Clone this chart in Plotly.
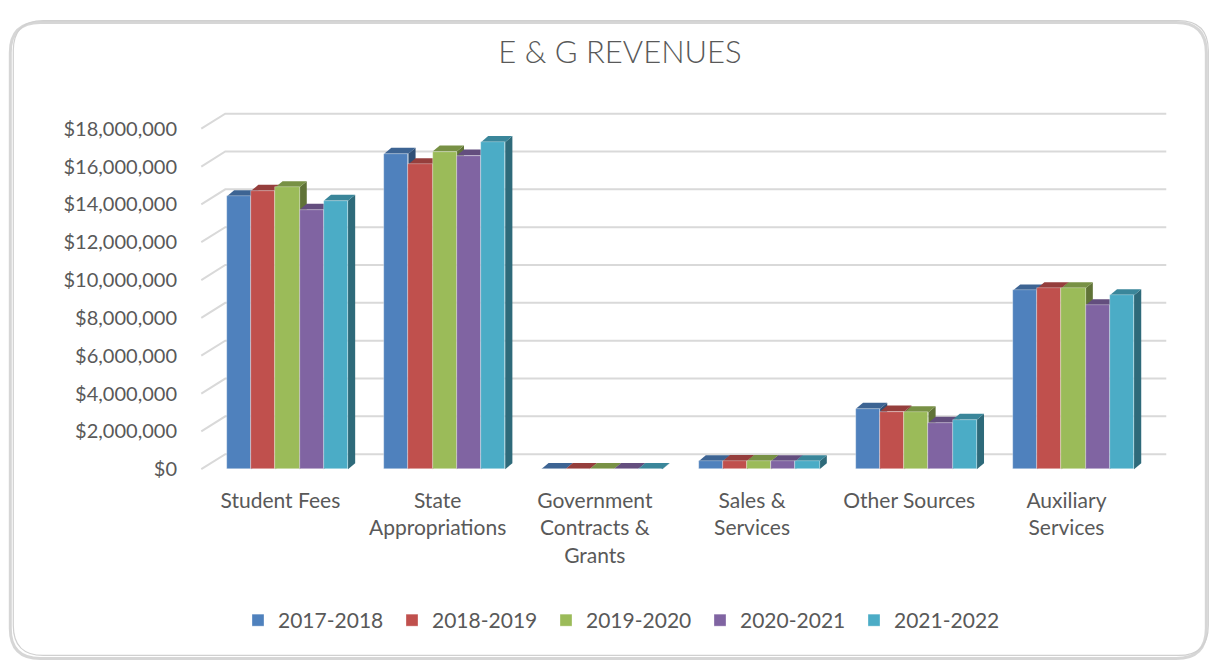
import plotly.graph_objects as go

# ---------------- data ----------------
categories = ["Student Fees", "State Appropriations", "Government Contracts & Grants",
              "Sales & Services", "Other Sources", "Auxiliary Services"]
tick_labels = ["Student Fees", "State<br>Appropriations", "Government<br>Contracts &<br>Grants",
               "Sales &<br>Services", "Other Sources", "Auxiliary<br>Services"]
years = ["2017-2018", "2018-2019", "2019-2020", "2020-2021", "2021-2022"]
v_2017_2018 = [14430000, 16670000, 15000, 420000, 3190000, 9450000]
v_2018_2019 = [14720000, 16120000, 15000, 430000, 3050000, 9570000]
v_2019_2020 = [14910000, 16790000, 15000, 430000, 3010000, 9570000]
v_2020_2021 = [13710000, 16580000, 15000, 420000, 2450000, 8670000]
v_2021_2022 = [14190000, 17290000, 15000, 420000, 2610000, 9200000]
series = [v_2017_2018, v_2018_2019, v_2019_2020, v_2020_2021, v_2021_2022]
y_ticks = list(range(0, 18000001, 2000000))
y_tick_text = ["$" + format(t, ",d") for t in y_ticks]

# ---------------- style ----------------
colors = ["#4F81BD", "#C0504D", "#9BBB59", "#8064A2", "#4BACC6"]
FONT = "Lato"
TXT = "#595959"

W, H = 1212, 660
L, R, T, B = 189.7, 41.3, 106.3, 187.2
x_range = [-0.62, 5.62]
y_range = [-200000, 19200000]
px_per_x = (W - L - R) / (x_range[1] - x_range[0])
px_per_y = (H - T - B) / (y_range[1] - y_range[0])

bar_w = 24.2 / px_per_x           # bar width in x units
dx = 7.2 / px_per_x               # 3D depth offset
dy = 6.0 / px_per_y
wall_x0 = (201 - 287.2) / px_per_x
wall_x1 = (1166 - 287.2) / px_per_x
wall_dx = 24 / px_per_x
wall_dy = 15 / px_per_y


def shade(hexcol, f):
    h = hexcol.lstrip("#")
    r, g, b = (int(h[i:i + 2], 16) for i in (0, 2, 4))
    return "rgb(%d,%d,%d)" % (r * f, g * f, b * f)


fig = go.Figure()
xs = list(range(len(categories)))
for j, (name, vals) in enumerate(zip(years, series)):
    fig.add_trace(go.Bar(
        x=xs, y=vals, name=name, width=bar_w, offset=(j - 2.5) * bar_w,
        marker=dict(color=colors[j], line=dict(width=0.6, color="rgba(255,255,255,0.55)")),
        hovertemplate="%{y:$,.0f}<extra>" + name + "</extra>",
    ))

shapes = []
# back wall gridlines with diagonal side-wall segments
for t in y_ticks:
    path = "M %f,%f L %f,%f L %f,%f" % (wall_x0, t, wall_x0 + wall_dx, t + wall_dy,
                                       wall_x1, t + wall_dy)
    shapes.append(dict(type="path", xref="x", yref="y", path=path, layer="below",
                       line=dict(color="#D9D9D9", width=2)))

# side faces
for i in xs:
    for j, vals in enumerate(series):
        x0 = i + (j - 2.5) * bar_w
        x1 = x0 + bar_w
        v = vals[i]
        path = "M %f,%f L %f,%f L %f,%f L %f,%f Z" % (x1, 0, x1, v, x1 + dx, v + dy, x1 + dx, dy)
        shapes.append(dict(type="path", xref="x", yref="y", path=path, layer="below",
                           fillcolor=shade(colors[j], 0.62), line=dict(width=0)))
# top faces
for i in xs:
    for j, vals in enumerate(series):
        x0 = i + (j - 2.5) * bar_w
        x1 = x0 + bar_w
        v = vals[i]
        path = "M %f,%f L %f,%f L %f,%f L %f,%f Z" % (x0, v, x1, v, x1 + dx, v + dy, x0 + dx, v + dy)
        shapes.append(dict(type="path", xref="x", yref="y", path=path, layer="below",
                           fillcolor=shade(colors[j], 0.78), line=dict(width=0)))


# chart frame (rounded rectangle) in paper coords
def P(px, py):
    return ((px - L) / (W - L - R), (H - B - py) / (H - T - B))


def rounded(x0, y0, x1, y1, r):
    pts = [("M", [(x0 + r, y0)]), ("L", [(x1 - r, y0)]), ("Q", [(x1, y0), (x1, y0 + r)]),
           ("L", [(x1, y1 - r)]), ("Q", [(x1, y1), (x1 - r, y1)]), ("L", [(x0 + r, y1)]),
           ("Q", [(x0, y1), (x0, y1 - r)]), ("L", [(x0, y0 + r)]), ("Q", [(x0, y0), (x0 + r, y0)])]
    s = ""
    for cmd, pp in pts:
        s += cmd + " " + " ".join("%f,%f" % P(a, b) for a, b in pp) + " "
    return s + "Z"


frame = [
    dict(type="path", xref="paper", yref="paper", path=rounded(10, 23, 1206, 658, 30),
         layer="below", line=dict(color="rgba(0,0,0,0.16)", width=3)),
    dict(type="path", xref="paper", yref="paper", path=rounded(13, 21, 1208, 655, 30),
         layer="below", line=dict(color="#D0D0D0", width=1.2)),
]

fig.update_layout(
    width=W, height=H,
    margin=dict(l=L, r=R, t=T, b=B, pad=0),
    paper_bgcolor="white", plot_bgcolor="rgba(0,0,0,0)",
    barmode="overlay",
    shapes=frame + shapes,
    font=dict(family=FONT, color=TXT, size=18),
    title=dict(text="E & G REVENUES", x=620 / W, xref="container", xanchor="center",
               y=1 - 52 / H, yref="container", yanchor="middle",
               font=dict(family=FONT, size=31, color=TXT, weight=300)),
    xaxis=dict(range=x_range, tickmode="array", tickvals=[i - 0.045 for i in xs],
               ticktext=tick_labels, showgrid=False, zeroline=False, showline=False,
               ticks="", ticklabelstandoff=13, tickfont=dict(size=21, color=TXT)),
    yaxis=dict(range=y_range, tickmode="array", tickvals=y_ticks, ticktext=y_tick_text,
               showgrid=False, zeroline=False, showline=False,
               ticks="", ticklabelstandoff=12, tickfont=dict(size=20, color=TXT)),
    legend=dict(orientation="h", xref="container", yref="container",
                x=238 / W, xanchor="left", y=1 - 600 / H, yanchor="top",
                entrywidth=109, entrywidthmode="pixels",
                font=dict(size=21, color=TXT), traceorder="normal"),
    bargap=0,
)

fig.write_html("out.html", config={"displayModeBar": False},
               post_script="document.body.style.margin='0';document.body.style.overflow='hidden';")
